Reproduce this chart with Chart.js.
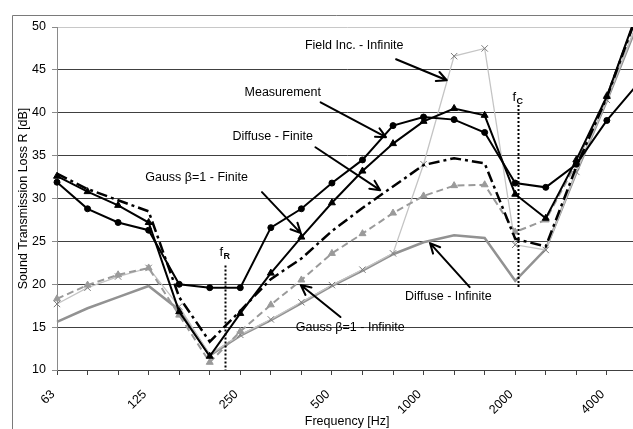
<!DOCTYPE html>
<html>
<head>
<meta charset="utf-8">
<script src="https://cdn.jsdelivr.net/npm/chart.js@4.4.1/dist/chart.umd.min.js"></script>
<style>
  html, body { margin: 0; padding: 0; overflow: hidden; background: #fff; width: 633px; height: 429px; }
  #c { display: block; }
</style>
</head>
<body>
<canvas id="c" width="660" height="429"></canvas>
<script>
// One-third octave band centre frequencies [Hz]
const bands = ['63','80','100','125','160','200','250','315','400','500','630','800','1000','1250','1600','2000','2500','3150','4000','5000'];
// Bands that carry a printed tick label
const labelledBands = ['63','125','250','500','1000','2000','4000'];
const yTicks = [10, 15, 20, 25, 30, 35, 40, 45, 50];

// Sound transmission loss R [dB] per band
const measurement     = [31.9, 28.8, 27.2, 26.3, 20.0, 19.6, 19.6, 26.6, 28.8, 31.8, 34.5, 38.5, 39.5, 39.2, 37.7, 31.8, 31.3, 34.0, 39.1, 43.3];
const diffuseFinite   = [32.6, 30.8, 29.2, 27.2, 16.8, 11.6, 16.6, 21.3, 25.5, 29.5, 33.2, 36.4, 39.0, 40.5, 39.7, 30.5, 27.7, 34.5, 41.9, 51.8];
const gaussFinite     = [32.9, 31.1, 29.8, 28.5, 18.5, 13.3, 16.9, 20.6, 23.0, 26.2, 28.9, 31.4, 33.9, 34.7, 34.1, 25.3, 24.4, 33.7, 41.8, 51.5];
const gaussInfinite   = [18.3, 19.9, 21.1, 21.9, 16.4, 10.9, 14.5, 17.6, 20.5, 23.6, 25.9, 28.3, 30.3, 31.5, 31.6, 26.1, 27.5, 34.1, 42.0, 51.5];
const fieldInfinite   = [17.7, 19.6, 20.9, 21.9, 17.4, 11.8, 14.1, 15.9, 17.9, 19.9, 21.7, 23.6, 34.0, 46.6, 47.5, 24.6, 24.0, 33.1, 41.5, 50.5];
const diffuseInfinite = [15.6, 17.2, 18.5, 19.8, 17.0, 11.7, 14.0, 15.8, 17.8, 19.8, 21.6, 23.5, 24.9, 25.7, 25.4, 20.4, 24.1, 33.0, 41.4, 50.3];

// Characteristic frequencies [Hz]: mass-spring-mass resonance and coincidence
const fResonance = 224;
const fCoincidence = 2030;

// Callout labels: text centre, arrow tail and arrow tip in (band index, dB)
const callouts = [
  { text: 'Field Inc. - Infinite', at: [9.73, 47.87], from: [11.10, 46.24], to: [12.76, 43.79] },
  { text: 'Measurement',           at: [7.39, 42.39], from: [8.63, 41.22],  to: [10.77, 37.15] },
  { text: 'Diffuse - Finite',      at: [7.06, 37.26], from: [8.46, 35.98],  to: [10.58, 30.97] },
  { text: 'Gauss \u03B2=1 - Finite',   at: [4.57, 32.49], from: [6.71, 30.74],  to: [7.98, 25.96] },
  { text: 'Diffuse - Infinite',    at: [12.81, 18.62], from: [13.51, 19.67], to: [12.21, 24.80] },
  { text: 'Gauss \u03B2=1 - Infinite', at: [9.60, 14.90], from: [9.28, 16.18],  to: [7.98, 19.91] }
];
// Marker lines: frequency, dB range of the dotted line, label dB and subscript
const freqMarks = [
  { f: fResonance,   top: 22.2, bottom: 10,   labelY: 23.9, sub: 'R' },
  { f: fCoincidence, top: 40.9, bottom: 19.6, labelY: 41.9, sub: 'C' }
];

const FONT = "'Liberation Sans', Arial, sans-serif";
// band index of a frequency on the 1/3-octave axis
const bandIndex = f => 10 * Math.log10(f / 63);

function arrow(ctx, x1, y1, x2, y2) {
  const a = Math.atan2(y2 - y1, x2 - x1);
  const L = 11, w = 0.45;
  ctx.beginPath();
  ctx.moveTo(x1, y1);
  ctx.lineTo(x2, y2);
  ctx.moveTo(x2 - L * Math.cos(a - w), y2 - L * Math.sin(a - w));
  ctx.lineTo(x2, y2);
  ctx.lineTo(x2 - L * Math.cos(a + w), y2 - L * Math.sin(a + w));
  ctx.stroke();
}

const overlay = {
  id: 'overlay',
  beforeDraw(chart) {
    const { ctx, width, height } = chart;
    ctx.save();
    ctx.fillStyle = '#fff';
    ctx.fillRect(0, 0, width, height);
    ctx.strokeStyle = '#7a7a7a';
    ctx.lineWidth = 1;
    ctx.beginPath();
    ctx.moveTo(12.5, height);
    ctx.lineTo(12.5, 15.5);
    ctx.lineTo(width, 15.5);
    ctx.stroke();
    ctx.restore();
  },
  afterDatasetsDraw(chart) {
    const { ctx } = chart;
    const xs = chart.scales.x, ys = chart.scales.y;
    const px = i => xs.getPixelForValue(i);
    const py = v => ys.getPixelForValue(v);
    ctx.save();
    // dotted marker lines with subscripted labels
    freqMarks.forEach(m => {
      const x = Math.round(px(bandIndex(m.f))) + 0.5;
      ctx.strokeStyle = '#000';
      ctx.lineWidth = 2;
      ctx.setLineDash([2, 2]);
      ctx.beginPath();
      ctx.moveTo(x, py(m.top));
      ctx.lineTo(x, py(m.bottom));
      ctx.stroke();
      ctx.setLineDash([]);
      ctx.fillStyle = '#000';
      ctx.textBaseline = 'alphabetic';
      ctx.textAlign = 'left';
      const yb = py(m.labelY) + 5;
      ctx.font = '13px ' + FONT;
      const fw = ctx.measureText('f').width;
      ctx.font = 'bold 9px ' + FONT;
      const sw = ctx.measureText(m.sub).width;
      const x0 = x - (fw + sw) / 2 - 1;
      ctx.font = '13px ' + FONT;
      ctx.fillText('f', x0, yb);
      ctx.font = 'bold 9px ' + FONT;
      ctx.fillText(m.sub, x0 + fw + 0.5, yb + 3);
    });
    // callouts
    ctx.strokeStyle = '#000';
    ctx.lineWidth = 2;
    ctx.lineCap = 'round';
    ctx.lineJoin = 'round';
    callouts.forEach(c => {
      arrow(ctx, px(c.from[0]), py(c.from[1]), px(c.to[0]), py(c.to[1]));
    });
    ctx.fillStyle = '#000';
    ctx.font = '12.5px ' + FONT;
    ctx.textAlign = 'center';
    ctx.textBaseline = 'middle';
    callouts.forEach(c => ctx.fillText(c.text, px(c.at[0]), py(c.at[1])));
    ctx.restore();
  }
};

const line = (data, o) => Object.assign({
  data, fill: false, tension: 0, pointRadius: 0, borderWidth: 2,
  borderColor: '#000', backgroundColor: '#000', pointBorderWidth: 1
}, o);

new Chart(document.getElementById('c'), {
  type: 'line',
  data: {
    labels: bands,
    datasets: [
      line(measurement,   { label: 'Measurement', pointStyle: 'circle', pointRadius: 3, borderWidth: 2 }),
      line(diffuseFinite, { label: 'Diffuse - Finite', pointStyle: 'triangle', pointRadius: 4, borderWidth: 2 }),
      line(gaussFinite,   { label: 'Gauss \u03B2=1 - Finite', borderWidth: 2.5, borderDash: [11, 4, 3, 4] }),
      line(gaussInfinite, { label: 'Gauss \u03B2=1 - Infinite', borderColor: '#9a9a9a', backgroundColor: '#9a9a9a',
                            pointStyle: 'triangle', pointRadius: 4, borderWidth: 2, borderDash: [7, 4] }),
      line(fieldInfinite, { label: 'Field Inc. - Infinite', borderColor: '#c4c4c4', borderWidth: 1.3,
                            pointStyle: 'crossRot', pointRadius: 4.5, pointBorderColor: '#7a7a7a',
                            pointBackgroundColor: '#7a7a7a', pointBorderWidth: 1 }),
      line(diffuseInfinite, { label: 'Diffuse - Infinite', borderColor: '#929292', borderWidth: 2.5 })
    ]
  },
  options: {
    responsive: false,
    animation: false,
    events: [],
    layout: { padding: { top: 27, right: 19, left: 0, bottom: 0 } },
    plugins: { legend: { display: false }, tooltip: { enabled: false } },
    scales: {
      x: {
        type: 'category',
        offset: false,
        grid: { display: true, offset: false, drawOnChartArea: false, drawTicks: true, tickLength: 5, tickColor: '#404040' },
        border: { display: true, color: '#404040', width: 1 },
        ticks: {
          autoSkip: false, maxRotation: 45, minRotation: 45, padding: 12, labelOffset: -4,
          color: '#000', font: { size: 12.5, family: FONT },
          callback(v, i) { return labelledBands.includes(bands[i]) ? bands[i] : ''; }
        },
        title: { display: true, text: 'Frequency [Hz]', color: '#000', font: { size: 12.5, family: FONT }, padding: { top: 0, bottom: 0 } },
        afterFit(s) { s.height = 59; }
      },
      y: {
        min: 10, max: 50,
        afterBuildTicks(s) { s.ticks = yTicks.map(v => ({ value: v })); },
        grid: {
          color: c => (c.tick && c.tick.value === 50) ? '#c8c8c8' : '#404040',
          tickColor: '#8a8a8a', tickLength: 5, lineWidth: 1
        },
        border: { display: true, color: '#8a8a8a', width: 1 },
        ticks: { padding: 6, color: '#000', font: { size: 12.5, family: FONT } },
        title: { display: true, text: 'Sound Transmission Loss R [dB]', color: '#000', font: { size: 12.5, family: FONT }, padding: { top: 16, bottom: 0 } },
        afterFit(s) { s.width = 57; }
      }
    }
  },
  plugins: [overlay]
});
</script>
</body>
</html>
